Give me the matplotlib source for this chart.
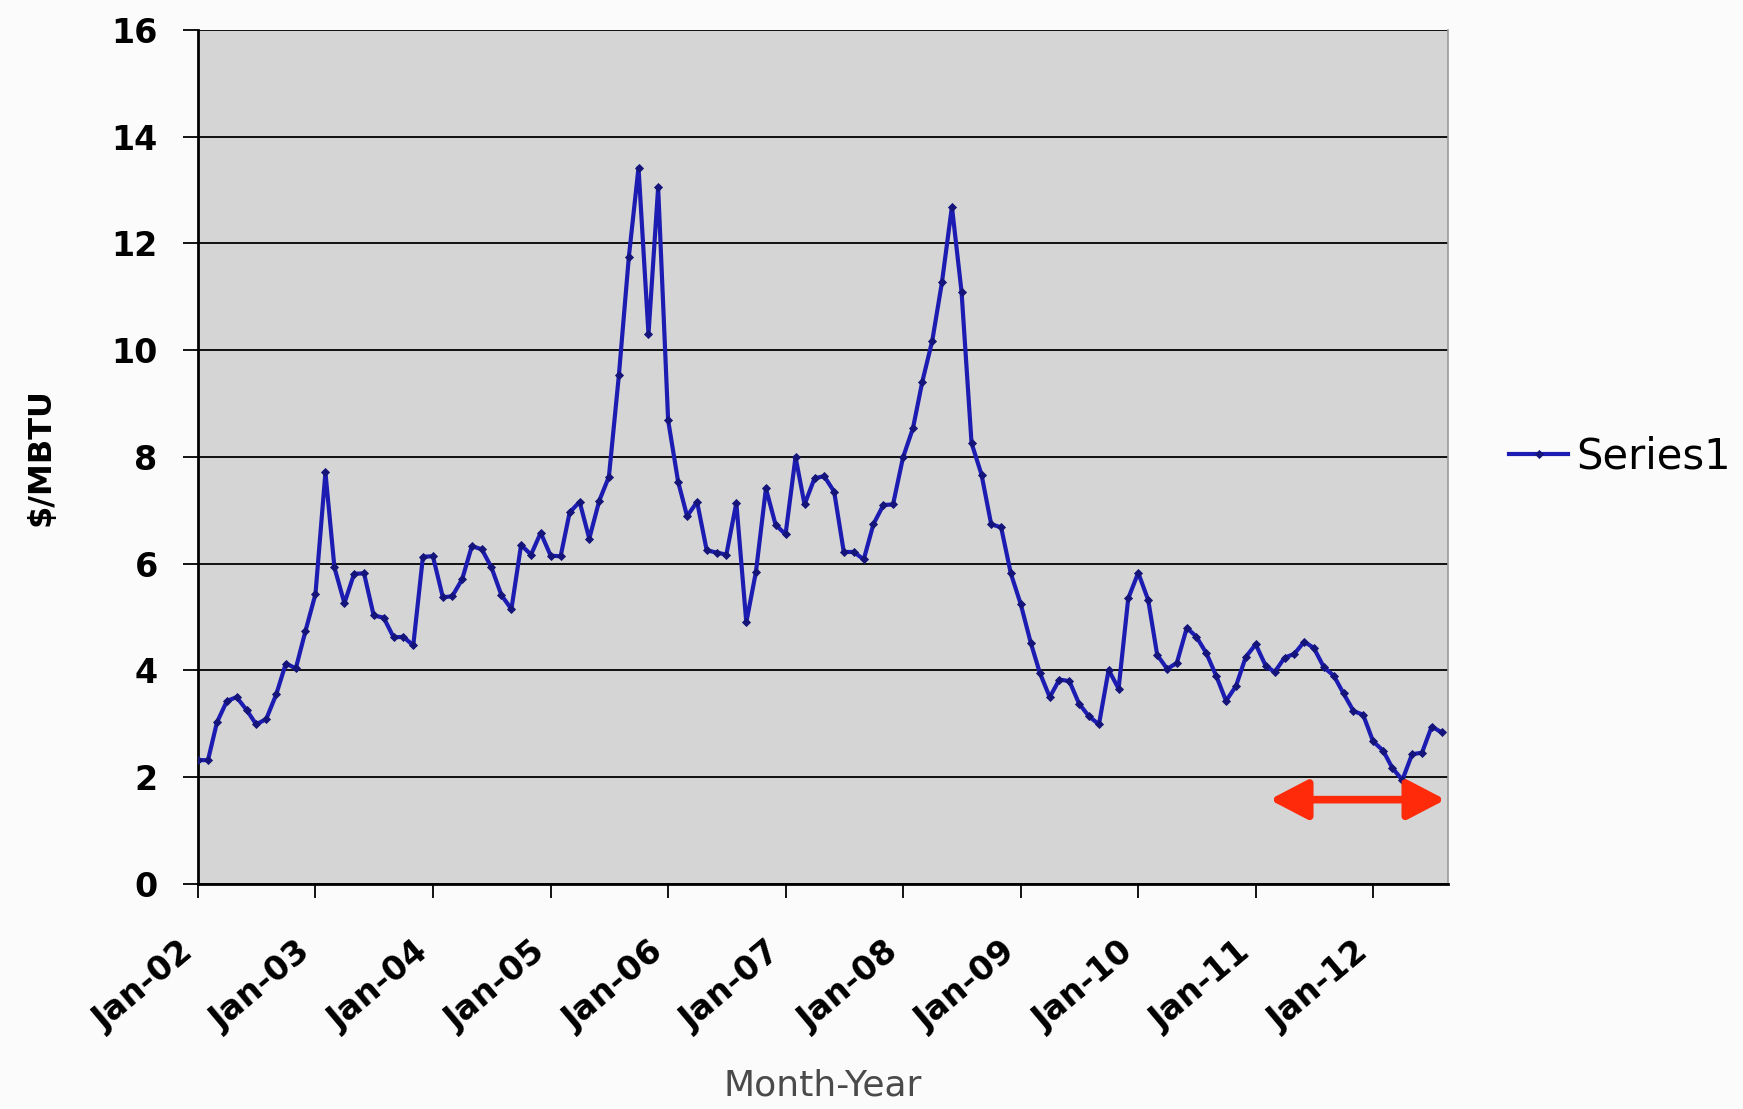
import pandas as pd
import matplotlib
matplotlib.use("Agg")
import matplotlib.pyplot as plt
import matplotlib.transforms as mtransforms

# Monthly natural gas price, $/MBTU, Jan 2002 - Aug 2012
price_2002 = [2.32, 2.32, 3.03, 3.43, 3.50, 3.26, 2.99, 3.09, 3.55, 4.13, 4.04, 4.74]
price_2003 = [5.43, 7.71, 5.93, 5.26, 5.81, 5.82, 5.03, 4.99, 4.62, 4.63, 4.47, 6.13]
price_2004 = [6.14, 5.37, 5.39, 5.71, 6.33, 6.27, 5.93, 5.41, 5.15, 6.35, 6.17, 6.58]
price_2005 = [6.15, 6.14, 6.96, 7.16, 6.47, 7.18, 7.63, 9.53, 11.75, 13.42, 10.30, 13.05]
price_2006 = [8.69, 7.54, 6.89, 7.16, 6.25, 6.21, 6.17, 7.14, 4.90, 5.85, 7.41, 6.73]
price_2007 = [6.55, 8.00, 7.11, 7.60, 7.64, 7.35, 6.22, 6.22, 6.08, 6.74, 7.10, 7.11]
price_2008 = [7.99, 8.54, 9.41, 10.18, 11.27, 12.69, 11.09, 8.26, 7.67, 6.74, 6.68, 5.82]
price_2009 = [5.24, 4.52, 3.96, 3.50, 3.83, 3.80, 3.38, 3.14, 2.99, 4.01, 3.66, 5.35]
price_2010 = [5.83, 5.32, 4.29, 4.03, 4.14, 4.80, 4.63, 4.32, 3.89, 3.43, 3.71, 4.25]
price_2011 = [4.49, 4.09, 3.97, 4.24, 4.31, 4.54, 4.42, 4.06, 3.90, 3.57, 3.24, 3.17]
price_2012 = [2.67, 2.50, 2.17, 1.95, 2.43, 2.46, 2.95, 2.84]

prices = (price_2002 + price_2003 + price_2004 + price_2005 + price_2006 + price_2007
          + price_2008 + price_2009 + price_2010 + price_2011 + price_2012)
months = pd.date_range("2002-01-01", periods=len(prices), freq="MS")

tick_dates = pd.date_range("2002-01-01", "2012-01-01", freq="YS")
tick_labels = ["Jan-02", "Jan-03", "Jan-04", "Jan-05", "Jan-06", "Jan-07",
               "Jan-08", "Jan-09", "Jan-10", "Jan-11", "Jan-12"]
y_ticks = [0, 2, 4, 6, 8, 10, 12, 14, 16]

# double arrow marking the recent low-price period
arrow_start = pd.Timestamp("2011-02-13")
arrow_end = pd.Timestamp("2012-08-13")
arrow_level = 1.58

fig = plt.figure(figsize=(17.43, 11.09), dpi=100, facecolor="#fbfbfb")
ax = fig.add_axes([0.1136, 0.2029, 0.8308 - 0.1136, 0.973 - 0.2029])
ax.set_facecolor("#d5d5d5")

ax.set_ylim(0, 16)
ax.set_xlim(pd.Timestamp("2002-01-01"), pd.Timestamp("2012-08-21"))
ax.set_yticks(y_ticks)
ax.yaxis.grid(True, color="black", linewidth=1.3)
ax.set_axisbelow(True)

ax.plot(months, prices, color="#1c1cb2", linewidth=3.0, marker="D",
        markersize=4.5, markerfacecolor="#14147a", markeredgecolor="#14147a",
        markeredgewidth=0.6, label="Series1", zorder=3)

ax.set_xticks(tick_dates)
ax.set_xticklabels(tick_labels, rotation=40, ha="right", va="center",
                   rotation_mode="anchor", fontsize=24, fontweight="bold")
ax.tick_params(axis="x", direction="out", length=10, width=1.3, pad=36)
ax.tick_params(axis="y", direction="out", length=11, width=1.3, pad=18,
               labelsize=24)
for lbl in ax.get_yticklabels():
    lbl.set_fontweight("bold")
shift = mtransforms.ScaledTranslation(-9 / 100, 0, fig.dpi_scale_trans)
for lbl in ax.get_xticklabels():
    lbl.set_transform(lbl.get_transform() + shift)

for side in ("left", "bottom"):
    ax.spines[side].set_color("black")
    ax.spines[side].set_linewidth(2)
ax.spines["top"].set_visible(False)
ax.spines["right"].set_color("#9a9a9a")
ax.spines["right"].set_linewidth(1.2)

ax.set_ylabel("$/MBTU", fontsize=23, fontweight="bold")
ax.yaxis.set_label_coords(-0.113, 0.5)
ax.set_xlabel("Month-Year", fontsize=26, color="#4a4a4a", va="center",
              family=["Liberation Sans Narrow", "DejaVu Sans"])
ax.xaxis.set_label_coords(0.5, -0.2365)

ax.annotate("", xy=(arrow_end, arrow_level), xytext=(arrow_start, arrow_level),
            arrowprops=dict(arrowstyle="<|-|>,head_length=2.3,head_width=1.2",
                            mutation_scale=10, lw=5.5, color="#ff2a0a",
                            shrinkA=0, shrinkB=0), zorder=4)

ax.legend(loc="center left", bbox_to_anchor=(0.866, 0.588),
          bbox_transform=fig.transFigure, frameon=False, fontsize=30,
          handlelength=1.4, handletextpad=0.2, borderpad=0, borderaxespad=0)

fig.savefig("out.png", dpi=100, facecolor=fig.get_facecolor())
